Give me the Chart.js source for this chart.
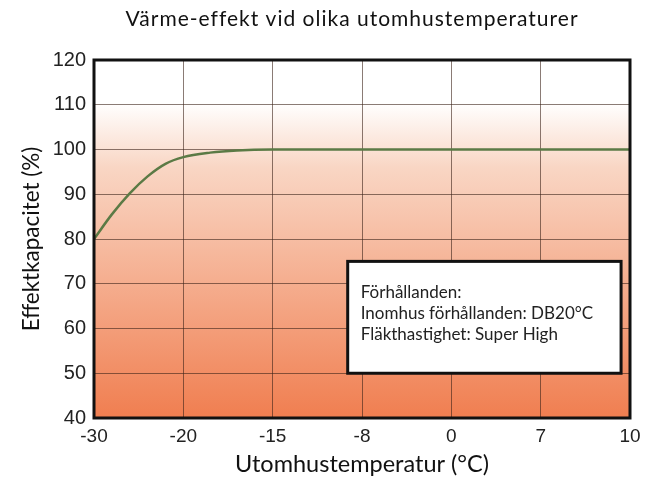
<!DOCTYPE html>
<html>
<head>
<meta charset="utf-8">
<script src="https://cdn.jsdelivr.net/npm/chart.js@4"></script>
<style>
  body { margin: 0; background: #fff; }
  #wrap { width: 655px; height: 481px; }
</style>
</head>
<body>
<div id="wrap"><canvas id="heatChart" width="655" height="481"></canvas></div>
<script>
// tick labels along the bottom, evenly spaced (not to scale)
const tempLabels = ['-30', '-20', '-15', '-8', '0', '7', '10'];
// curve points: position along the axis (tick index) and capacity in %
const curvePos = [0, 0.2, 0.4, 0.6, 0.8, 1, 1.3, 1.6, 2, 3, 4, 5, 6];
const capacity = [80, 85.5, 90.2, 94, 96.8, 98.3, 99.3, 99.8, 100, 100, 100, 100, 100];
const yTicks = [40, 50, 60, 70, 80, 90, 100, 110, 120];
const chartTitle = 'Värme-effekt vid olika utomhustemperaturer';
const noteLines = ['Förhållanden:', 'Inomhus förhållanden: DB20°C', 'Fläkthastighet: Super High'];

const humanist = 'Lato, "Open Sans", sans-serif';
const arial = '"Liberation Sans", Arial, sans-serif';

const bgPlugin = {
    id: 'bg',
    beforeDraw(chart) {
        const { ctx, chartArea: a } = chart;
        const g = ctx.createLinearGradient(0, a.top, 0, a.bottom);
        g.addColorStop(0, '#ffffff');
        g.addColorStop(0.12, '#ffffff');
        g.addColorStop(0.3, '#f9d6c4');
        g.addColorStop(1, '#f07e50');
        ctx.save();
        ctx.fillStyle = g;
        ctx.fillRect(a.left, a.top, a.right - a.left, a.bottom - a.top);

        // title
        ctx.fillStyle = '#111';
        ctx.font = '21px ' + humanist;
        ctx.letterSpacing = '1px';
        ctx.textAlign = 'center';
        ctx.textBaseline = 'middle';
        ctx.fillText(chartTitle, 352, 19);
        ctx.restore();
    },
    afterDraw(chart) {
        const { ctx, chartArea: a, scales } = chart;
        ctx.save();
        ctx.strokeStyle = '#111';
        ctx.lineWidth = 3;
        ctx.strokeRect(a.left, a.top, a.right - a.left, a.bottom - a.top);

        // note box
        const x1 = scales.x.getPixelForValue(2.84);
        const x2 = scales.x.getPixelForValue(5.9);
        const y1 = scales.y.getPixelForValue(75);
        const y2 = scales.y.getPixelForValue(50);
        ctx.fillStyle = '#fff';
        ctx.fillRect(x1, y1, x2 - x1, y2 - y1);
        ctx.strokeRect(x1, y1, x2 - x1, y2 - y1);
        ctx.fillStyle = '#222';
        ctx.font = '17px ' + humanist;
        ctx.textBaseline = 'middle';
        noteLines.forEach((t, i) => ctx.fillText(t, x1 + 13, y1 + 31 + i * 21));
        ctx.restore();
    }
};

new Chart(document.getElementById('heatChart'), {
    type: 'line',
    data: {
        datasets: [{
            data: curvePos.map((p, i) => ({ x: p, y: capacity[i] })),
            borderColor: '#5b7a45',
            borderWidth: 2.5,
            pointRadius: 0,
            cubicInterpolationMode: 'monotone',
            fill: false
        }]
    },
    options: {
        responsive: false,
        animation: false,
        layout: { padding: { left: 18, right: 25, top: 60, bottom: 0 } },
        plugins: {
            legend: { display: false },
            tooltip: { enabled: false },
            title: { display: false }
        },
        scales: {
            x: {
                type: 'linear',
                min: 0,
                max: tempLabels.length - 1,
                afterBuildTicks: s => { s.ticks = tempLabels.map((_, i) => ({ value: i })); },
                ticks: {
                    callback: v => tempLabels[v],
                    color: '#222',
                    font: { family: arial, size: 19 },
                    padding: 7,
                    maxRotation: 0
                },
                grid: { color: 'rgba(60,35,25,0.6)', lineWidth: 1, drawTicks: false },
                border: { display: false },
                title: {
                    display: true,
                    text: 'Utomhustemperatur (°C)',
                    color: '#111',
                    font: { family: humanist, size: 23.5 },
                    padding: { top: 2, bottom: 2 }
                },
                afterFit: s => { s.height = 63; }
            },
            y: {
                min: 40,
                max: 120,
                afterBuildTicks: s => { s.ticks = yTicks.map(v => ({ value: v })); },
                ticks: {
                    color: '#222',
                    font: { family: arial, size: 20 },
                    padding: 8
                },
                grid: { color: 'rgba(60,35,25,0.6)', lineWidth: 1, drawTicks: false },
                border: { display: false },
                title: {
                    display: true,
                    text: 'Effektkapacitet (%)',
                    color: '#111',
                    font: { family: humanist, size: 22.5 },
                    padding: { top: 0, bottom: 0 }
                },
                afterFit: s => { s.width = 76; }
            }
        }
    },
    plugins: [bgPlugin]
});
</script>
</body>
</html>
